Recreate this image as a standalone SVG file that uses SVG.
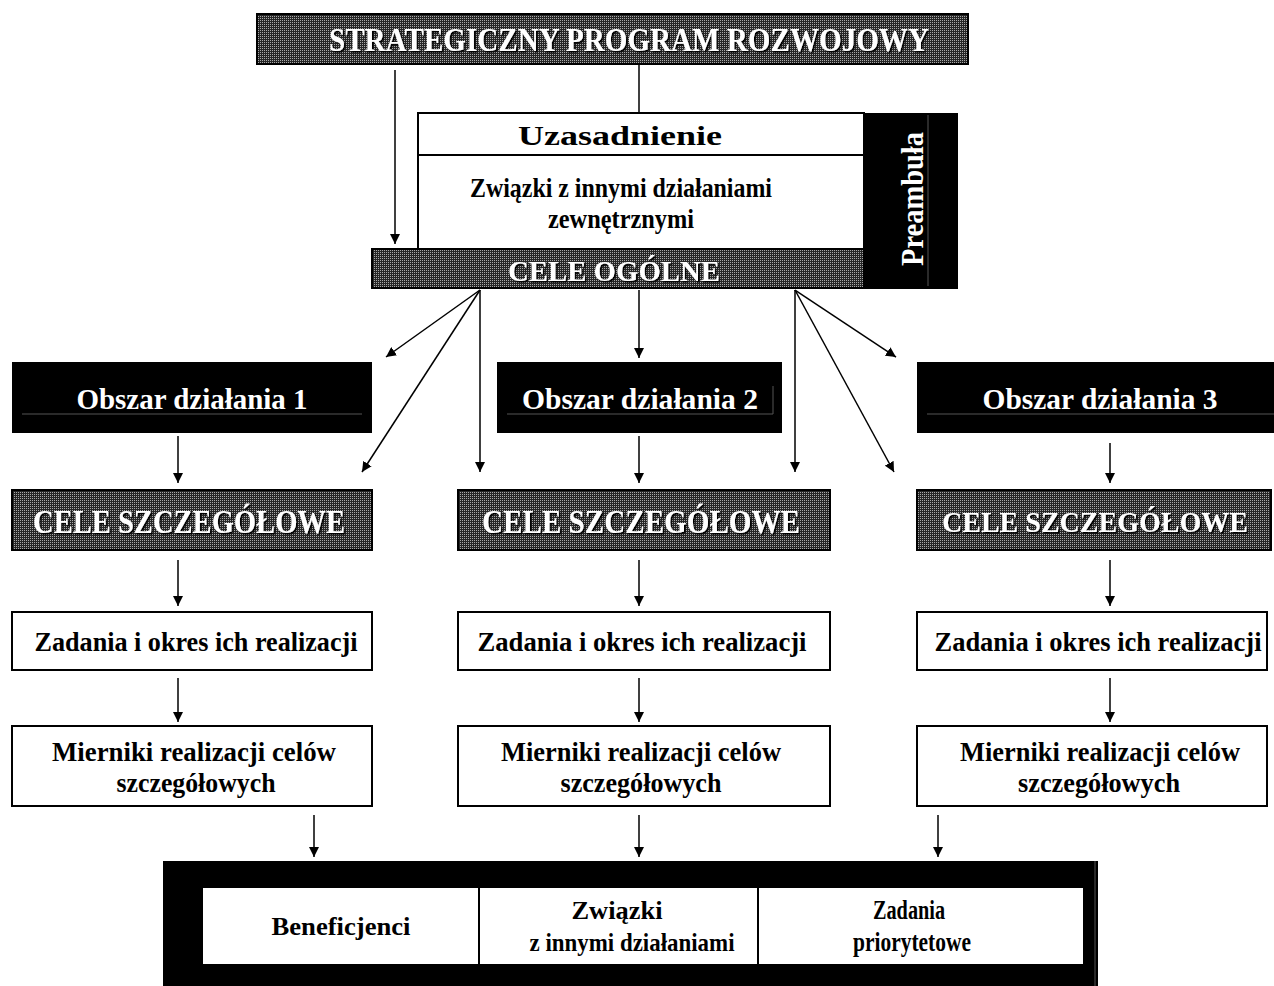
<svg xmlns="http://www.w3.org/2000/svg" width="1274" height="986" viewBox="0 0 1274 986">
<defs>
<pattern id="dots" width="2" height="2" patternUnits="userSpaceOnUse"><rect width="2" height="2" fill="#262626"/><rect width="1" height="1" fill="#a8a8a8"/></pattern>
<filter id="sh" x="-5%" y="-20%" width="110%" height="140%"><feDropShadow dx="1.5" dy="1.5" stdDeviation="0" flood-color="#000" flood-opacity="1"/></filter>
<marker id="ah" viewBox="0 0 10 10" refX="10" refY="5" markerWidth="10" markerHeight="10" markerUnits="userSpaceOnUse" orient="auto"><path d="M0,0 L10,5 L0,10 z" fill="#000"/></marker>
</defs>
<style>
text{font-family:"Liberation Serif","Times New Roman",serif;font-weight:bold;text-anchor:middle}
.dk{fill:#000;font-size:27px}
.sm{fill:#000;font-size:26px}
.wh{fill:#fff;font-size:29px}
.sh{fill:#fff;font-size:33px;filter:url(#sh)}
.pat{fill:url(#dots);stroke:#000;stroke-width:2}
.box{fill:#fff;stroke:#000;stroke-width:2}
.blk{fill:#000}
.gl{stroke:#555;stroke-width:1;fill:none}
.c line{stroke:#000;stroke-width:1.5;marker-end:url(#ah)}
.c line.n{marker-end:none}
</style>
<rect width="1274" height="986" fill="#fff"/>

<g id="program">
<rect class="pat" x="257" y="14" width="711" height="50"/>
<text class="sh" x="629" y="51" textLength="600" lengthAdjust="spacingAndGlyphs">STRATEGICZNY PROGRAM ROZWOJOWY</text>
</g>

<g id="preambula-tresc">
<rect class="box" x="418" y="113" width="446" height="136"/>
<line x1="418" y1="155" x2="864" y2="155" stroke="#000" stroke-width="2"/>
<text class="dk" x="620" y="145" textLength="204" lengthAdjust="spacingAndGlyphs">Uzasadnienie</text>
<text class="dk" x="621" y="197" textLength="302" lengthAdjust="spacingAndGlyphs">Związki z innymi działaniami</text>
<text class="dk" x="621" y="228" textLength="146" lengthAdjust="spacingAndGlyphs">zewnętrznymi</text>
</g>

<g id="preambula">
<rect class="blk" x="864" y="113" width="94" height="176"/>
<line class="gl" x1="928" y1="115" x2="928" y2="286"/>
<text class="wh" style="font-size:31px" transform="translate(923,199) rotate(-90)" x="0" y="0" textLength="134" lengthAdjust="spacingAndGlyphs">Preambuła</text>
</g>

<g id="cele-ogolne">
<rect class="pat" x="372" y="249" width="492" height="39"/>
<text class="sh" style="font-size:30px" x="614" y="281" textLength="212" lengthAdjust="spacingAndGlyphs">CELE OGÓLNE</text>
</g>

<g id="obszar-1">
<rect class="blk" x="12" y="362" width="360" height="71"/>
<line class="gl" x1="22" y1="414" x2="362" y2="414"/>
<text class="wh" x="192" y="409" textLength="231" lengthAdjust="spacingAndGlyphs">Obszar działania 1</text>
</g>
<g id="obszar-2">
<rect class="blk" x="497" y="362" width="285" height="71"/>
<line class="gl" x1="507" y1="414" x2="773" y2="414"/>
<line class="gl" x1="773" y1="386" x2="773" y2="414"/>
<text class="wh" x="640" y="409" textLength="236" lengthAdjust="spacingAndGlyphs">Obszar działania 2</text>
</g>
<g id="obszar-3">
<rect class="blk" x="917" y="362" width="357" height="71"/>
<line class="gl" x1="927" y1="414" x2="1274" y2="414"/>
<text class="wh" x="1100" y="409" textLength="235" lengthAdjust="spacingAndGlyphs">Obszar działania 3</text>
</g>

<g id="cele-szczegolowe-1">
<rect class="pat" x="12" y="490" width="360" height="60"/>
<text class="sh" x="189" y="533" textLength="312" lengthAdjust="spacingAndGlyphs">CELE SZCZEGÓŁOWE</text>
</g>
<g id="cele-szczegolowe-2">
<rect class="pat" x="458" y="490" width="372" height="60"/>
<text class="sh" x="641" y="533" textLength="318" lengthAdjust="spacingAndGlyphs">CELE SZCZEGÓŁOWE</text>
</g>
<g id="cele-szczegolowe-3">
<rect class="pat" x="917" y="490" width="354" height="60"/>
<text class="sh" style="font-size:30px" x="1095" y="532" textLength="306" lengthAdjust="spacingAndGlyphs">CELE SZCZEGÓŁOWE</text>
</g>

<g id="zadania-1">
<rect class="box" x="12" y="612" width="360" height="58"/>
<text class="dk" x="196" y="651" textLength="323" lengthAdjust="spacingAndGlyphs">Zadania i okres ich realizacji</text>
</g>
<g id="zadania-2">
<rect class="box" x="458" y="612" width="372" height="58"/>
<text class="dk" x="642" y="651" textLength="329" lengthAdjust="spacingAndGlyphs">Zadania i okres ich realizacji</text>
</g>
<g id="zadania-3">
<rect class="box" x="917" y="612" width="350" height="58"/>
<text class="dk" x="1098" y="651" textLength="327" lengthAdjust="spacingAndGlyphs">Zadania i okres ich realizacji</text>
</g>

<g id="mierniki-1">
<rect class="box" x="12" y="726" width="360" height="80"/>
<text class="dk" x="194" y="761" textLength="284" lengthAdjust="spacingAndGlyphs">Mierniki realizacji celów</text>
<text class="dk" x="196" y="792" textLength="159" lengthAdjust="spacingAndGlyphs">szczegółowych</text>
</g>
<g id="mierniki-2">
<rect class="box" x="458" y="726" width="372" height="80"/>
<text class="dk" x="641" y="761" textLength="280" lengthAdjust="spacingAndGlyphs">Mierniki realizacji celów</text>
<text class="dk" x="641" y="792" textLength="161" lengthAdjust="spacingAndGlyphs">szczegółowych</text>
</g>
<g id="mierniki-3">
<rect class="box" x="917" y="726" width="350" height="80"/>
<text class="dk" x="1100" y="761" textLength="280" lengthAdjust="spacingAndGlyphs">Mierniki realizacji celów</text>
<text class="dk" x="1099" y="792" textLength="162" lengthAdjust="spacingAndGlyphs">szczegółowych</text>
</g>

<g id="podsumowanie">
<rect class="blk" x="163" y="861" width="935" height="125"/>
<line class="gl" x1="1095" y1="861" x2="1095" y2="986"/>
<rect fill="#fff" x="203" y="888" width="880" height="76"/>
<line x1="479" y1="888" x2="479" y2="964" stroke="#000" stroke-width="2"/>
<line x1="758" y1="888" x2="758" y2="964" stroke="#000" stroke-width="2"/>
<text class="sm" x="341" y="935" textLength="139" lengthAdjust="spacingAndGlyphs">Beneficjenci</text>
<text class="sm" x="617" y="919" textLength="91" lengthAdjust="spacingAndGlyphs">Związki</text>
<text class="sm" x="632" y="951" textLength="205" lengthAdjust="spacingAndGlyphs">z innymi działaniami</text>
<text class="sm" style="font-size:27px" x="909" y="919" textLength="72" lengthAdjust="spacingAndGlyphs">Zadania</text>
<text class="sm" style="font-size:27px" x="912" y="951" textLength="118" lengthAdjust="spacingAndGlyphs">priorytetowe</text>
</g>

<g id="connectors" class="c">
<line x1="395" y1="70" x2="395" y2="244"/>
<line class="n" x1="639" y1="64" x2="639" y2="113"/>
<line x1="480" y1="290" x2="386" y2="357"/>
<line x1="480" y1="290" x2="362" y2="472"/>
<line x1="480" y1="290" x2="480" y2="472"/>
<line x1="639" y1="290" x2="639" y2="358"/>
<line x1="795" y1="290" x2="795" y2="472"/>
<line x1="795" y1="290" x2="894" y2="472"/>
<line x1="795" y1="290" x2="896" y2="357"/>
<line x1="178" y1="436" x2="178" y2="483"/>
<line x1="639" y1="436" x2="639" y2="483"/>
<line x1="1110" y1="443" x2="1110" y2="483"/>
<line x1="178" y1="560" x2="178" y2="606"/>
<line x1="639" y1="560" x2="639" y2="606"/>
<line x1="1110" y1="560" x2="1110" y2="606"/>
<line x1="178" y1="678" x2="178" y2="722"/>
<line x1="639" y1="678" x2="639" y2="722"/>
<line x1="1110" y1="678" x2="1110" y2="722"/>
<line x1="314" y1="815" x2="314" y2="857"/>
<line x1="639" y1="815" x2="639" y2="857"/>
<line x1="938" y1="815" x2="938" y2="857"/>
</g>
</svg>
